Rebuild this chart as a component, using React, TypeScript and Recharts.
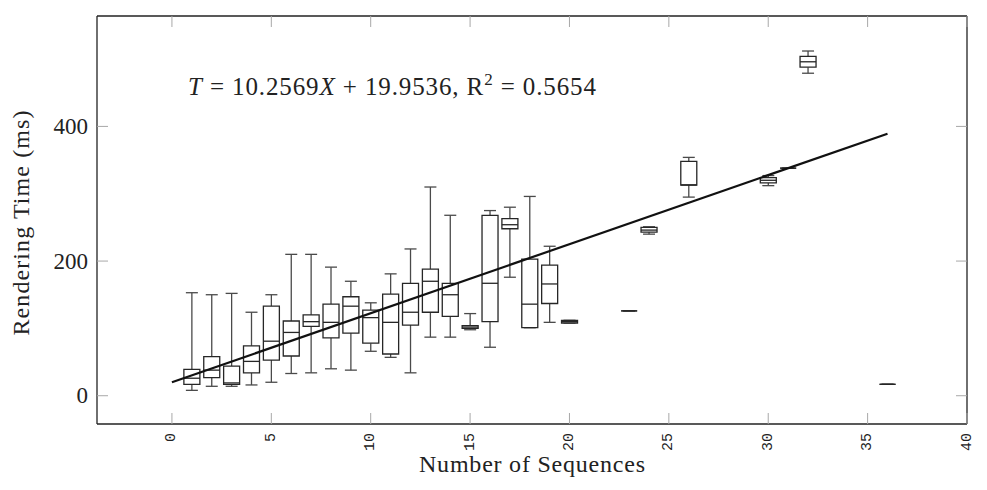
import React from 'react';
import { ComposedChart, XAxis, YAxis, Line, Bar } from 'recharts';

// Box-plot data
const positions = [1, 2, 3, 4, 5, 6, 7, 8, 9, 10, 11, 12, 13, 14, 15, 16, 17, 18, 19, 20, 23, 24, 26, 30, 31, 32, 36];
const whiskerLow = [8, 14, 14, 16, 20, 33, 34, 40, 38, 66, 57, 34, 87, 87, 98, 72, 176, 101, 109, 108, 126, 240, 295, 312, 338, 479, 17];
const quartile1 = [17, 27, 17, 34, 53, 59, 103, 86, 93, 78, 62, 105, 124, 118, 100, 110, 248, 101, 137, 108, 126, 243, 313, 316, 338, 488, 17];
const medians = [26, 38, 19, 51, 81, 94, 110, 109, 133, 116, 109, 124, 170, 150, 102, 167, 254, 136, 166, 110, 126, 246, 313, 320, 338, 496, 17];
const quartile3 = [39, 58, 44, 74, 133, 111, 120, 136, 147, 127, 151, 167, 188, 167, 104, 268, 263, 203, 194, 112, 126, 250, 348, 324, 338, 504, 17];
const whiskerHigh = [153, 150, 152, 124, 150, 210, 210, 191, 170, 138, 181, 218, 310, 268, 122, 275, 280, 296, 222, 112, 126, 251, 354, 327, 338, 512, 17];

const xTicks = [0, 5, 10, 15, 20, 25, 30, 35, 40];
const yTicks = [0, 200, 400];
const xDomain = [-3.77, 40];
const yDomain = [-42, 564];

// Regression line given in the chart
const slope = 10.2569;
const intercept = 19.9536;
const fitX = [0, 36];

const boxData = positions.map((x, i) => ({
  x,
  lo: whiskerLow[i],
  q1: quartile1[i],
  med: medians[i],
  q3: quartile3[i],
  hi: whiskerHigh[i],
  range: [whiskerLow[i], whiskerHigh[i]],
}));
const fitData = fitX.map((x) => ({ x, fit: slope * x + intercept }));

const SERIF = '"Liberation Serif", "Times New Roman", serif';
const MONO = '"Liberation Mono", "DejaVu Sans Mono", monospace';
const TICK_COLOR = '#a8a8a8';
const TICK_LEN = 11;
const FRAME = { stroke: '#222', strokeWidth: 1.3 };

const BoxShape = (props: any) => {
  const { x, y, width, height, payload } = props;
  if (x == null || y == null || !payload) return null;
  const p = payload;
  const span = p.hi - p.lo;
  const toY = (v: number) => (span === 0 ? y : y + ((p.hi - v) / span) * height);
  const cx = x + width / 2;
  const capW = width * 0.75;
  const yHi = toY(p.hi), yQ3 = toY(p.q3), yMed = toY(p.med), yQ1 = toY(p.q1), yLo = toY(p.lo);
  const whisk = '#4a4a4a';
  const boxC = '#262626';
  return (
    <g>
      <line x1={cx} x2={cx} y1={yHi} y2={yQ3} stroke={whisk} strokeWidth={1.3} />
      <line x1={cx} x2={cx} y1={yQ1} y2={yLo} stroke={whisk} strokeWidth={1.3} />
      <line x1={cx - capW / 2} x2={cx + capW / 2} y1={yHi} y2={yHi} stroke={whisk} strokeWidth={1.3} />
      <line x1={cx - capW / 2} x2={cx + capW / 2} y1={yLo} y2={yLo} stroke={whisk} strokeWidth={1.3} />
      <path
        d={`M${x},${yQ3}L${x + width},${yQ3}L${x + width},${yQ1}L${x},${yQ1}Z`}
        fill="#ffffff"
        stroke={boxC}
        strokeWidth={1.3}
      />
      <line x1={x} x2={x + width} y1={yMed} y2={yMed} stroke={boxC} strokeWidth={1.3} />
    </g>
  );
};

const XTickBottom = (props: any) => {
  const { x, y, payload } = props;
  const ty = y + 9;
  return (
    <g>
      <line x1={x} x2={x} y1={y} y2={y - TICK_LEN} stroke={TICK_COLOR} strokeWidth={1} />
      <text
        x={x}
        y={ty}
        transform={`rotate(-90 ${x} ${ty})`}
        textAnchor="end"
        dominantBaseline="central"
        fontFamily={MONO}
        fontSize={15}
        fill="#222"
      >
        {payload.value}
      </text>
    </g>
  );
};

const XTickTop = (props: any) => {
  const { x, y } = props;
  return <line x1={x} x2={x} y1={y} y2={y + TICK_LEN} stroke={TICK_COLOR} strokeWidth={1} />;
};

const YTickLeft = (props: any) => {
  const { x, y, payload } = props;
  return (
    <g>
      <line x1={x} x2={x + TICK_LEN} y1={y} y2={y} stroke={TICK_COLOR} strokeWidth={1} />
      <text x={x - 9} y={y} textAnchor="end" dominantBaseline="central" fontFamily={SERIF} fontSize={23} fill="#222">
        {payload.value}
      </text>
    </g>
  );
};

const YTickRight = (props: any) => {
  const { x, y } = props;
  return <line x1={x} x2={x - TICK_LEN} y1={y} y2={y} stroke={TICK_COLOR} strokeWidth={1} />;
};

const XTitle = (props: any) => {
  const vb = props.viewBox || {};
  return (
    <text
      x={vb.x + vb.width / 2}
      y={vb.y + 48}
      textAnchor="middle"
      fontFamily={SERIF}
      fontSize={24}
      fill="#222"
      textLength={226}
      lengthAdjust="spacing"
    >
      Number of Sequences
    </text>
  );
};

const YTitle = (props: any) => {
  const vb = props.viewBox || {};
  const tx = vb.x + 29;
  const ty = vb.y + vb.height / 2 + 3;
  return (
    <text
      x={tx}
      y={ty}
      transform={`rotate(-90 ${tx} ${ty})`}
      textAnchor="middle"
      fontFamily={SERIF}
      fontSize={24}
      fill="#222"
      textLength={225}
      lengthAdjust="spacing"
    >
      Rendering Time (ms)
    </text>
  );
};

export default function App() {
  return (
    <div style={{ position: 'absolute', left: 0, top: 0, width: 987, height: 490, background: '#fff' }}>
      <ComposedChart width={987} height={490} data={boxData} margin={{ top: 15, right: 19, bottom: 0, left: 0 }}>
        <XAxis
          dataKey="x"
          type="number"
          domain={xDomain}
          ticks={xTicks}
          interval={0}
          allowDataOverflow
          height={66}
          tickSize={0}
          tickMargin={0}
          tick={<XTickBottom />}
          axisLine={FRAME}
          tickLine={false}
          label={{ content: <XTitle /> }}
        />
        <XAxis
          xAxisId="top"
          orientation="top"
          dataKey="x"
          type="number"
          domain={xDomain}
          ticks={xTicks}
          interval={0}
          allowDataOverflow
          height={1}
          tickSize={0}
          tickMargin={0}
          tick={<XTickTop />}
          axisLine={FRAME}
          tickLine={false}
        />
        <YAxis
          type="number"
          domain={yDomain}
          ticks={yTicks}
          interval={0}
          allowDataOverflow
          width={97}
          tickSize={0}
          tickMargin={0}
          tick={<YTickLeft />}
          axisLine={FRAME}
          tickLine={false}
          label={{ content: <YTitle /> }}
        />
        <YAxis
          yAxisId="right"
          orientation="right"
          type="number"
          domain={yDomain}
          ticks={yTicks}
          interval={0}
          allowDataOverflow
          width={1}
          tickSize={0}
          tickMargin={0}
          tick={<YTickRight />}
          axisLine={FRAME}
          tickLine={false}
        />
        <Line
          data={fitData}
          dataKey="fit"
          xAxisId="top"
          yAxisId="right"
          stroke="none"
          dot={false}
          activeDot={false}
          legendType="none"
          isAnimationActive={false}
        />
        <Line
          data={fitData}
          dataKey="fit"
          type="linear"
          stroke="#111"
          strokeWidth={2.2}
          dot={false}
          activeDot={false}
          isAnimationActive={false}
        />
        <Bar dataKey="range" barSize={16} shape={<BoxShape />} isAnimationActive={false} />
      </ComposedChart>
      <svg width={987} height={490} style={{ position: 'absolute', left: 0, top: 0, pointerEvents: 'none' }}>
        <text x={188} y={95} fontFamily={SERIF} fontSize={25} fill="#222" xmlSpace="preserve" textLength={408} lengthAdjust="spacing">
          <tspan fontStyle="italic">T</tspan>
          <tspan> = 10.2569</tspan>
          <tspan fontStyle="italic">X</tspan>
          <tspan> + 19.9536, R</tspan>
          <tspan dy={-10} fontSize={17}>2</tspan>
          <tspan dy={10}> = 0.5654</tspan>
        </text>
      </svg>
    </div>
  );
}
